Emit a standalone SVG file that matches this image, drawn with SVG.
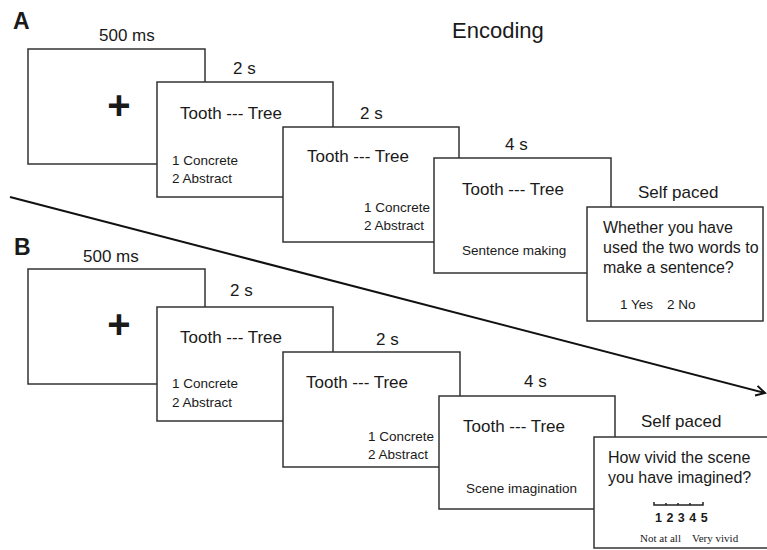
<svg xmlns="http://www.w3.org/2000/svg" width="767" height="550" viewBox="0 0 767 550">
<defs>
<style>
.box{fill:#fff;stroke:#333;stroke-width:1.5}
text{font-family:"Liberation Sans",Arial,sans-serif;fill:#1a1a1a}
.t{font-size:17px}
.s{font-size:13.5px}
.q{font-size:16px}
.lab{font-size:23px;font-weight:bold}
.plus{font-size:40px;text-anchor:middle;font-weight:bold}
.serif{font-family:"Liberation Serif","Times New Roman",serif;font-size:11px}
</style>
<marker id="arr" markerWidth="12" markerHeight="12" refX="10" refY="6" orient="auto" markerUnits="userSpaceOnUse">
<path d="M1,1 L10,6 L1,11" fill="none" stroke="#111" stroke-width="2"/>
</marker>
</defs>
<rect width="767" height="550" fill="#fff"/>
<text class="lab" x="13" y="29">A</text>
<text class="lab" x="14" y="255">B</text>
<text x="452" y="38" style="font-size:22px">Encoding</text>

<g id="connectors">
<line x1="10" y1="197" x2="765" y2="393" stroke="#111" stroke-width="2" marker-end="url(#arr)"/>
</g>

<g id="A1">
<text class="t" x="99" y="41">500 ms</text>
<rect class="box" x="28" y="49" width="177" height="115"/>
<text class="plus" x="119" y="119">+</text>
</g>
<g id="A2">
<text class="t" x="233" y="74">2 s</text>
<rect class="box" x="157" y="82" width="176" height="115"/>
<text class="t" x="180" y="119">Tooth --- Tree</text>
<text class="s" x="172" y="165">1 Concrete</text>
<text class="s" x="172" y="183">2 Abstract</text>
</g>
<g id="A3">
<text class="t" x="360" y="119">2 s</text>
<rect class="box" x="283" y="127" width="176" height="115"/>
<text class="t" x="307" y="162">Tooth --- Tree</text>
<text class="s" x="364" y="212">1 Concrete</text>
<text class="s" x="364" y="230">2 Abstract</text>
</g>
<g id="A4">
<text class="t" x="505" y="150">4 s</text>
<rect class="box" x="434" y="158" width="177" height="115"/>
<text class="t" x="462" y="195">Tooth --- Tree</text>
<text class="s" x="462" y="255">Sentence making</text>
</g>
<g id="A5">
<text class="t" x="638" y="198">Self paced</text>
<rect class="box" x="587" y="207" width="176" height="114"/>
<text class="q" x="603" y="233">Whether you have</text>
<text class="q" x="603" y="253">used the two words to</text>
<text class="q" x="603" y="273">make a sentence?</text>
<text class="s" x="620" y="309">1 Yes</text>
<text class="s" x="667" y="309">2 No</text>
</g>

<g id="B1">
<text class="t" x="83" y="262">500 ms</text>
<rect class="box" x="28" y="269" width="177" height="115"/>
<text class="plus" x="119" y="338">+</text>
</g>
<g id="B2">
<text class="t" x="230" y="296">2 s</text>
<rect class="box" x="157" y="307" width="176" height="114"/>
<text class="t" x="180" y="343">Tooth --- Tree</text>
<text class="s" x="172" y="388">1 Concrete</text>
<text class="s" x="172" y="407">2 Abstract</text>
</g>
<g id="B3">
<text class="t" x="376" y="345">2 s</text>
<rect class="box" x="283" y="352" width="177" height="115"/>
<text class="t" x="306" y="388">Tooth --- Tree</text>
<text class="s" x="368" y="441">1 Concrete</text>
<text class="s" x="368" y="459">2 Abstract</text>
</g>
<g id="B4">
<text class="t" x="524" y="387">4 s</text>
<rect class="box" x="439" y="396" width="176" height="113"/>
<text class="t" x="463" y="432">Tooth --- Tree</text>
<text class="s" x="466" y="493">Scene imagination</text>
</g>
<g id="B5">
<text class="t" x="641" y="427">Self paced</text>
<rect class="box" x="594" y="437" width="190" height="111"/>
<text class="q" x="608" y="463">How vivid the scene</text>
<text class="q" x="608" y="483">you have imagined?</text>
<path d="M654,502 V505 H703 V502 M666,505 V503 M678,505 V503 M690,505 V503" fill="none" stroke="#222" stroke-width="1.5"/>
<text x="655" y="522" style="font-size:12.5px;font-weight:bold;word-spacing:1px">1 2 3 4 5</text>
<text class="serif" x="640" y="542">Not at all</text>
<text class="serif" x="692" y="542">Very vivid</text>
</g>
</svg>
